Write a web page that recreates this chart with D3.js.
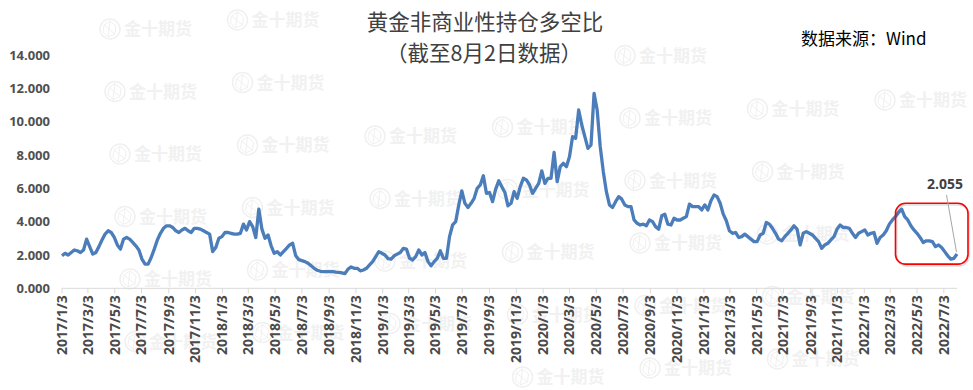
<!DOCTYPE html>
<html>
<head>
<meta charset="utf-8">
<script src="https://cdn.jsdelivr.net/npm/d3@7"></script>
<style>
    body { margin: 0; background: #fff; }
    text { font-family: "Open Sans", "Liberation Sans", sans-serif; }
    .cjk { font-family: "Noto Sans CJK SC", sans-serif; }
</style>
</head>
<body>
<div id="chart"></div>
<script>
// weekly values, first week 2017/1/3, last week 2022/8/2
const firstWeek = "2017/1/3"
const ratio = [
    1.95, 2.1, 2.0, 2.15, 2.3, 2.25, 2.15, 2.3, 2.95, 2.5,
    2.05, 2.15, 2.5, 2.9, 3.25, 3.45, 3.35, 3.05, 2.6, 2.35,
    2.95, 3.05, 2.95, 2.75, 2.55, 2.3, 1.75, 1.45, 1.45, 1.85,
    2.35, 2.9, 3.3, 3.6, 3.75, 3.75, 3.65, 3.45, 3.35, 3.5,
    3.6, 3.45, 3.35, 3.6, 3.6, 3.55, 3.45, 3.35, 3.25, 2.2,
    2.45, 3.0, 3.1, 3.35, 3.35, 3.3, 3.25, 3.25, 3.3, 3.85,
    3.5, 4.0, 3.7, 3.05, 4.75, 3.55, 3.0, 3.2, 2.55, 2.1,
    2.2, 2.0, 2.2, 2.4, 2.6, 2.7, 1.95, 1.72, 1.66, 1.6,
    1.5, 1.35, 1.2, 1.08, 1.02, 1.0, 1.0, 1.0, 1.0, 0.97,
    0.96, 0.92, 0.88, 1.15, 1.28, 1.2, 1.2, 1.05, 1.1, 1.2,
    1.4, 1.6, 1.9, 2.2, 2.1, 2.0, 1.78, 1.75, 1.95, 2.05,
    2.15, 2.4, 2.35, 1.8, 1.7, 1.9, 2.3, 2.0, 2.15, 1.6,
    1.35, 1.6, 1.8, 2.25, 1.8, 1.8, 3.1, 3.8, 4.0, 5.0,
    5.85, 5.1, 4.85, 5.1, 5.4, 6.0, 6.2, 6.75, 5.7, 5.75,
    5.2, 5.95, 6.45, 6.1, 5.75, 4.95, 5.1, 5.8, 5.4, 6.1,
    6.6, 6.5, 6.2, 5.7, 6.0, 6.3, 7.05, 6.3, 6.6, 6.6,
    8.15, 6.4, 7.3, 7.5, 7.3, 7.9, 9.1, 9.0, 10.7, 9.8,
    9.1, 8.4, 8.6, 11.7, 10.7, 8.5, 7.0, 5.8, 5.0, 4.85,
    5.2, 5.5, 5.35, 5.0, 4.9, 4.9, 4.1, 3.9, 3.8, 3.85,
    3.75, 4.1, 4.0, 3.7, 3.55, 4.35, 4.45, 3.85, 3.8, 4.2,
    4.1, 4.1, 4.2, 4.3, 5.05, 4.9, 4.9, 4.9, 4.7, 5.0,
    4.7, 5.25, 5.6, 5.5, 5.1, 4.45, 4.05, 3.45, 3.3, 3.35,
    3.05, 3.1, 3.25, 3.1, 2.95, 2.8, 2.8, 3.2, 3.3, 3.95,
    3.85, 3.6, 3.3, 2.95, 2.85, 3.1, 3.3, 3.5, 3.75, 3.55,
    2.6, 3.3, 3.4, 3.3, 3.2, 3.0, 2.8, 2.4, 2.6, 2.7,
    2.9, 3.1, 3.55, 3.8, 3.65, 3.65, 3.6, 3.3, 3.05, 3.3,
    3.4, 3.5, 3.2, 3.3, 3.35, 2.7, 3.05, 3.2, 3.45, 3.85,
    4.1, 4.3, 4.55, 4.75, 4.3, 4.1, 3.75, 3.5, 3.3, 3.05,
    2.75, 2.85, 2.85, 2.8, 2.5, 2.6, 2.45, 2.2, 1.95, 1.75,
    1.8, 2.055
]

const xTicks = [
    "2017/1/3", "2017/3/3", "2017/5/3", "2017/7/3", "2017/9/3", "2017/11/3",
    "2018/1/3", "2018/3/3", "2018/5/3", "2018/7/3", "2018/9/3", "2018/11/3",
    "2019/1/3", "2019/3/3", "2019/5/3", "2019/7/3", "2019/9/3", "2019/11/3",
    "2020/1/3", "2020/3/3", "2020/5/3", "2020/7/3", "2020/9/3", "2020/11/3",
    "2021/1/3", "2021/3/3", "2021/5/3", "2021/7/3", "2021/9/3", "2021/11/3",
    "2022/1/3", "2022/3/3", "2022/5/3", "2022/7/3"
]
const yTicks = [0, 2, 4, 6, 8, 10, 12, 14]

const title1 = "黄金非商业性持仓多空比"
const title2 = "（截至8月2日数据）"
const source = "数据来源：Wind"
const lastLabel = "2.055"
// highlighted period
const boxFrom = "2022/3/15", boxTo = "2022/8/27", boxHigh = 5.1, boxLow = 1.45

const width = 973, height = 390
const parse = d3.timeParse("%Y/%m/%d")
const start = parse(firstWeek)
const data = ratio.map((v, i) => ({date: d3.timeWeek.offset(start, i), value: v}))
const last = data[data.length - 1]

const svg = d3.select("#chart")
    .append("svg")
    .attr("width", width)
    .attr("height", height)

// faint watermark grid, skip the ones cut at edges or under the titles
const keepClear = [[355, 10, 615, 66], [795, 24, 940, 52]]
const wm = svg.append("g").attr("fill", "none")
for (let r = -1; r < 8; r++) {
    for (let c = -1; c < 8; c++) {
        const lx = 100 + 127.5 * c + 5 * r
        const cy = 29 + 62.5 * r - 9 * c
        if (lx < 0 || lx + 95 > width || cy < 14 || cy > height - 10) continue
        const hit = keepClear.some(b => lx < b[2] && lx + 95 > b[0] && cy - 12 < b[3] && cy + 8 > b[1])
        if (hit) continue
        const g = wm.append("g").attr("transform", `translate(${lx},${cy})`)
        g.append("circle")
            .attr("cx", 10).attr("r", 10)
            .attr("stroke", "#f0f0f0").attr("stroke-width", 1.5)
        g.append("path")
            .attr("d", "M4,-4 L10,-8 L16,-3 L15,5 L8,8 L3,3 Z M10,-8 L8,8 M4,-4 L15,5")
            .attr("stroke", "#f0f0f0").attr("stroke-width", 1)
        g.append("text")
            .attr("class", "cjk")
            .attr("x", 24).attr("y", 6)
            .style("font-size", "17px").style("font-weight", "bold")
            .attr("fill", "#f1f1f1")
            .text("金十期货")
    }
}

const x = d3.scaleTime()
    .domain([start, last.date])
    .range([62, 957])

const y = d3.scaleLinear()
    .domain([0, 14])
    .range([288.3, 55])

// y labels, no axis line
svg.append("g")
    .selectAll("text")
    .data(yTicks)
    .join("text")
    .attr("x", 50)
    .attr("y", d => y(d))
    .attr("dy", "0.35em")
    .attr("text-anchor", "end")
    .attr("fill", "#505050")
    .style("font-size", "13px")
    .style("font-weight", "bold")
    .text(d => d3.format(".3f")(d))

// x axis
const tickDates = xTicks.map(parse)
const xAxis = svg.append("g")
    .attr("transform", `translate(0,${y(0)})`)
xAxis.append("line")
    .attr("x1", x.range()[0]).attr("x2", x.range()[1])
    .attr("stroke", "#d9d9d9")
xAxis.selectAll(".tick")
    .data(tickDates)
    .join("line")
    .attr("class", "tick")
    .attr("x1", d => x(d)).attr("x2", d => x(d))
    .attr("y1", 0).attr("y2", 5)
    .attr("stroke", "#d9d9d9")
xAxis.selectAll(".lab")
    .data(xTicks)
    .join("text")
    .attr("class", "lab")
    .attr("transform", (d, i) => `translate(${x(tickDates[i])},7) rotate(-90)`)
    .attr("dy", "0.35em")
    .attr("text-anchor", "end")
    .attr("fill", "#4a4a4a")
    .style("font-size", "14px")
    .style("font-weight", "bold")
    .text(d => d)

// series
svg.append("path")
    .datum(data)
    .attr("d", d3.line()
        .x(d => x(d.date))
        .y(d => y(d.value)))
    .attr("fill", "none")
    .attr("stroke", "#4a7dba")
    .attr("stroke-width", 3.3)
    .attr("stroke-linejoin", "round")

// highlight box
const bx0 = x(parse(boxFrom)), bx1 = x(parse(boxTo))
svg.append("rect")
    .attr("x", bx0 + 1).attr("y", y(boxHigh) + 1.5)
    .attr("width", bx1 - bx0).attr("height", y(boxLow) - y(boxHigh))
    .attr("rx", 10)
    .attr("fill", "none")
    .attr("stroke", "#000").attr("stroke-opacity", 0.12)
    .attr("stroke-width", 2)
svg.append("rect")
    .attr("x", bx0).attr("y", y(boxHigh))
    .attr("width", bx1 - bx0).attr("height", y(boxLow) - y(boxHigh))
    .attr("rx", 10)
    .attr("fill", "none")
    .attr("stroke", "#ff0000")
    .attr("stroke-width", 1.6)

// last value label
svg.append("line")
    .attr("x1", x(last.date) - 10.5).attr("y1", 195)
    .attr("x2", x(last.date) - 0.5).attr("y2", y(last.value) - 2)
    .attr("stroke", "#a6a6a6")
svg.append("text")
    .attr("x", x(last.date) - 12)
    .attr("y", 189)
    .attr("text-anchor", "middle")
    .attr("fill", "#404040")
    .style("font-size", "14px")
    .style("font-weight", "bold")
    .text(lastLabel)

// titles
svg.append("text")
    .attr("class", "cjk")
    .attr("x", 485).attr("y", 30)
    .attr("text-anchor", "middle")
    .attr("fill", "#404040")
    .style("font-size", "21.5px")
    .text(title1)
svg.append("text")
    .attr("class", "cjk")
    .attr("x", 484).attr("y", 61)
    .attr("text-anchor", "middle")
    .attr("fill", "#404040")
    .style("font-size", "21.5px")
    .text(title2)
svg.append("text")
    .attr("class", "cjk")
    .attr("x", 801).attr("y", 45)
    .attr("fill", "#000")
    .style("font-size", "17px")
    .text(source)
</script>
</body>
</html>
